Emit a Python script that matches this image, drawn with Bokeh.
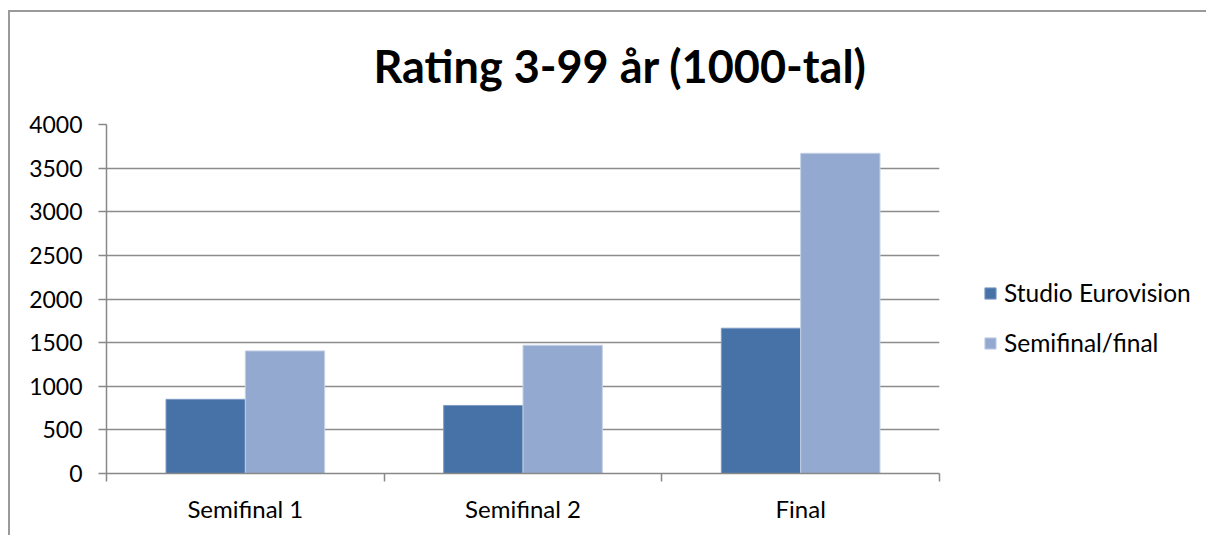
from bokeh.plotting import figure
from bokeh.models import (ColumnDataSource, FixedTicker, Legend, LegendItem,
                          Range1d, Title)
from bokeh.embed import file_html
from bokeh.resources import INLINE

# ---- data ----
categories = ["Semifinal 1", "Semifinal 2", "Final"]
studio_eurovision = [850, 780, 1665]
semifinal_final = [1405, 1470, 3670]
y_ticks = [0, 500, 1000, 1500, 2000, 2500, 3000, 3500, 4000]
series_names = ["Studio Eurovision", "Semifinal/final"]

FONT = "Lato"
BAR_W = 2 / 7  # Excel gap width 150%

centers = [i + 0.5 for i in range(len(categories))]
src = ColumnDataSource(dict(
    xc=centers,
    x_studio=[c - BAR_W / 2 for c in centers],
    x_semi=[c + BAR_W / 2 for c in centers],
    studio=studio_eurovision,
    semi=semifinal_final,
))

p = figure(
    output_backend="svg", toolbar_location=None,
    frame_width=833, frame_height=349,
    min_border_left=106, min_border_right=267,
    min_border_top=124, min_border_bottom=62,
    x_range=Range1d(0, len(categories)), y_range=Range1d(0, 4000),
    background_fill_color="white", border_fill_alpha=0,
    outline_line_color=None,
)
p.styles = {
    "background": "linear-gradient(#9a9a9a,#9a9a9a) 8px 10px / 2px 100% no-repeat, "
                  "linear-gradient(#9a9a9a,#9a9a9a) 8px 10px / 100% 2px no-repeat, white",
}

r1 = p.vbar(x="x_studio", top="studio", width=BAR_W, source=src,
            fill_color="#4672A8", line_color="#7f9cc4", line_width=1)
r2 = p.vbar(x="x_semi", top="semi", width=BAR_W, source=src,
            fill_color="#94A9CF", line_color="#c4d1e6", line_width=1)

# y axis
ya = p.yaxis[0]
ya.ticker = FixedTicker(ticks=y_ticks)
ya.axis_line_color = "#888888"
ya.axis_line_width = 1.5
ya.major_tick_line_color = "#888888"
ya.major_tick_line_width = 1.5
ya.major_tick_out = 8
ya.major_tick_in = 0
ya.minor_tick_line_color = None
ya.major_label_standoff = 16
ya.major_label_text_font = FONT
ya.major_label_text_font_size = "23px"
ya.major_label_text_color = "#000000"

# x axis: labels at centres, tick marks at category boundaries
xa = p.xaxis[0]
xa.ticker = FixedTicker(ticks=centers, minor_ticks=[0, 1, 2, 3])
xa.major_label_overrides = {c: lab for c, lab in zip(centers, categories)}
xa.axis_line_color = "#888888"
xa.axis_line_width = 1.5
xa.major_tick_line_color = None
xa.major_tick_out = 8
xa.major_tick_in = 0
xa.minor_tick_line_color = "#888888"
xa.minor_tick_line_width = 1.5
xa.minor_tick_out = 8
xa.minor_tick_in = 0
xa.major_label_standoff = 12
xa.major_label_text_font = FONT
xa.major_label_text_font_size = "24px"
xa.major_label_text_color = "#000000"

p.xgrid.grid_line_color = None
p.ygrid.ticker = FixedTicker(ticks=y_ticks)
p.ygrid.grid_line_color = "#8c8c8c"
p.ygrid.grid_line_width = 1.5

# title
t = Title(text="Rating 3-99 år (1000-tal)", align="left", offset=267,
          text_font=FONT, text_font_style="bold", text_font_size="45px",
          text_color="#000000", standoff=63)
p.add_layout(t, "above")

# legend
legend = Legend(items=[LegendItem(label=series_names[0], renderers=[r1]),
                       LegendItem(label=series_names[1], renderers=[r2])],
                location=(44, 116), orientation="vertical",
                label_text_font=FONT, label_text_font_size="24.5px",
                label_text_color="#000000", label_height=28,
                glyph_width=14, glyph_height=14, label_standoff=7,
                spacing=21, padding=0, margin=0,
                border_line_color=None, background_fill_alpha=0)
p.add_layout(legend, "right")

open("out.html", "w").write(file_html(p, INLINE))
